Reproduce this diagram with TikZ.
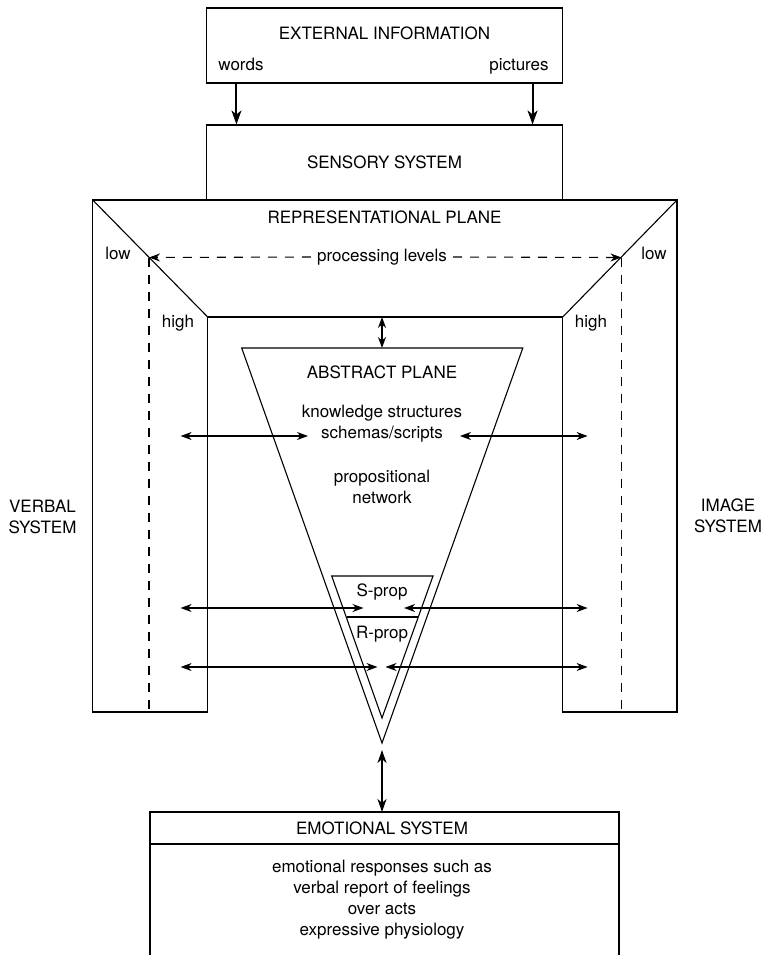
\documentclass[tikz,border=0pt]{standalone}
\usepackage{fontspec}
\setmainfont{TeX Gyre Heros}
\usetikzlibrary{arrows.meta}

\begin{document}
\begin{tikzpicture}[x=1pt, y=-1pt,
    plane/.style={draw, line width=1.1pt},
    stage/.style={draw, line width=1.1pt, minimum width=356pt, minimum height=75pt},
    txt/.style={inner sep=0pt, font=\fontsize{17}{21}\selectfont, align=center},
    link/.style={{Stealth[length=11pt,width=8pt,inset=3.5pt]}-{Stealth[length=11pt,width=8pt,inset=3.5pt]}, line width=1.1pt},
    feed/.style={-{Stealth[length=14pt,width=10pt,inset=4pt]}, line width=2pt},
    levels/.style={dash pattern=on 9pt off 8pt, line width=1.1pt},
]
\useasboundingbox (0,0) rectangle (765,955);

\node[stage] (extinfo) at (384.5,45.5) {};
\node[txt] (exttitle) at (384.5,33) {EXTERNAL INFORMATION};
\node[txt, anchor=base] (words) at (241,71) {words};
\node[txt, anchor=base] (pictures) at (519,71) {pictures};
\node[stage, txt] (sensory) at (384.5,162.5) {SENSORY SYSTEM};
\draw[feed] ([xshift=30.5pt]extinfo.south west) -- ([xshift=30.5pt]sensory.north west);
\draw[feed] ([xshift=-30.5pt]extinfo.south east) -- ([xshift=-30.5pt]sensory.north east);

\coordinate (outerL) at (92.7,200);
\coordinate (outerR) at (677,200);
\coordinate (innerL) at (207.7,317);
\coordinate (innerR) at (562.7,317);
\coordinate (lowL) at (149,257.5);
\coordinate (lowR) at (621.5,257.5);
\draw[plane] (outerL) -- (outerR) -- (677,712) -- (562.7,712) -- (innerR) -- (innerL) -- (207.7,712) -- (92.7,712) -- cycle;
\draw[plane] (outerL) -- (innerL);
\draw[plane] (outerR) -- (innerR);
\node[txt] (repplane) at (384.5,217) {REPRESENTATIONAL PLANE};
\node[txt] (lowtxtL) at (118,253) {low};
\node[txt] (lowtxtR) at (654,253) {low};
\node[txt] (hightxtL) at (178,323) {high};
\node[txt] (hightxtR) at (591,323) {high};
\node[txt, inner xsep=6pt] (proc) at (382,257) {processing levels};
\draw[levels, -{Stealth[length=11pt,width=8pt,inset=3.5pt]}] (proc.west) -- (lowL);
\draw[levels, -{Stealth[length=11pt,width=8pt,inset=3.5pt]}] (proc.east) -- (lowR);
\draw[levels] (lowL) -- (149,712);
\draw[levels] (lowR) -- (621.5,712);
\node[txt] (verbal) at (42.5,516.5) {VERBAL\\SYSTEM};
\node[txt] (image) at (728,516) {IMAGE\\SYSTEM};

\coordinate (tritop) at (382,348);
\coordinate (apex) at (382,743);
\draw[plane] (241.7,348) -- (522.8,348) -- (apex) -- cycle;
\draw[plane] (331.7,576) -- (433,576) -- (382,718) -- cycle;
\draw[plane] (346.5,617) -- (418.3,617);
\draw[link] (innerL -| tritop) -- (tritop);
\node[txt] (abstract) at (382,372) {ABSTRACT PLANE};
\node[txt] (knowl) at (382,423.5) {knowledge structures\\schemas/scripts};
\node[txt] (propnet) at (382,487) {propositional\\network};
\node[txt] (sprop) at (382,592) {S-prop};
\node[txt] (rprop) at (382,634) {R-prop};

\foreach \y/\l/\r in {436/308/460, 608/363.5/404, 667/377.5/385.5} {
  \draw[link] (180.6,\y) -- (\l,\y);
  \draw[link] (\r,\y) -- (587.6,\y);
}

\coordinate (emotop) at (382,812);
\draw[plane] (150,955) -- (150,812) -- (619,812) -- (619,955);
\draw[plane] (150,844) -- (619,844);
\draw[link, line width=2pt, {Stealth[length=13pt,width=9pt,inset=4pt]}-{Stealth[length=13pt,width=9pt,inset=4pt]}] ([yshift=-7pt]apex) -- (emotop);
\node[txt] (emotitle) at (382,828) {EMOTIONAL SYSTEM};
\node[txt] (emotext) at (382,900) {emotional responses such as\\verbal report of feelings\\over acts\\expressive physiology};

\end{tikzpicture}
\end{document}
